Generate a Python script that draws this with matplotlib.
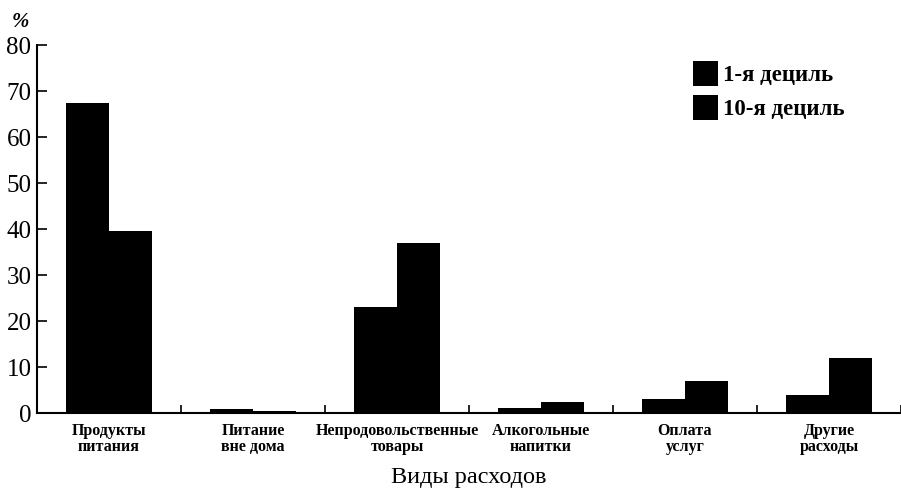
import matplotlib
matplotlib.use("Agg")
import matplotlib.pyplot as plt
import numpy as np

categories = [
    "Продукты\nпитания",
    "Питание\nвне дома",
    "Непродовольственные\nтовары",
    "Алкогольные\nнапитки",
    "Оплата\nуслуг",
    "Другие\nрасходы",
]
decile_1 = [67.5, 0.8, 23.0, 1.0, 3.0, 4.0]
decile_10 = [39.5, 0.4, 37.0, 2.5, 7.0, 12.0]
yticks = [0, 10, 20, 30, 40, 50, 60, 70, 80]

plt.rcParams["font.family"] = ["Liberation Serif", "DejaVu Serif"]

fig = plt.figure(figsize=(9.01, 4.9), dpi=100)
ax = fig.add_axes([0.041, 0.157, 0.959, 0.751])

x = np.arange(len(categories)) + 0.5
w = 0.3
ax.bar(x - w / 2, decile_1, width=w, color="black", label="1-я дециль")
ax.bar(x + w / 2, decile_10, width=w, color="black", label="10-я дециль")

ax.set_xlim(0, len(categories))
ax.set_ylim(0, 80)
ax.set_yticks(yticks)
ax.tick_params(axis="y", direction="in", length=7, width=1.2, labelsize=18, pad=4)
ax.set_xticks(x)
ax.set_xticklabels(categories, fontsize=11.5, fontweight="bold", linespacing=1.05)
ax.tick_params(axis="x", which="major", length=0, pad=7)
ax.set_xticks(np.arange(len(categories) + 1), minor=True)
ax.tick_params(axis="x", which="minor", direction="in", length=6, width=1.2)

for side in ("top", "right"):
    ax.spines[side].set_visible(False)
for side in ("left", "bottom"):
    ax.spines[side].set_linewidth(1.5)

ax.set_xlabel("Виды расходов", fontsize=17.5, labelpad=8)
fig.text(0.013, 0.945, "%", fontsize=15, style="italic", fontweight="bold")

fig.legend(loc="upper left", bbox_to_anchor=(0.759, 0.895), frameon=False,
           prop={"size": 16.5, "weight": "bold"}, handlelength=1.1, handleheight=1.3,
           handletextpad=0.2, labelspacing=0.4, borderaxespad=0)

fig.savefig("out.png", dpi=100)
